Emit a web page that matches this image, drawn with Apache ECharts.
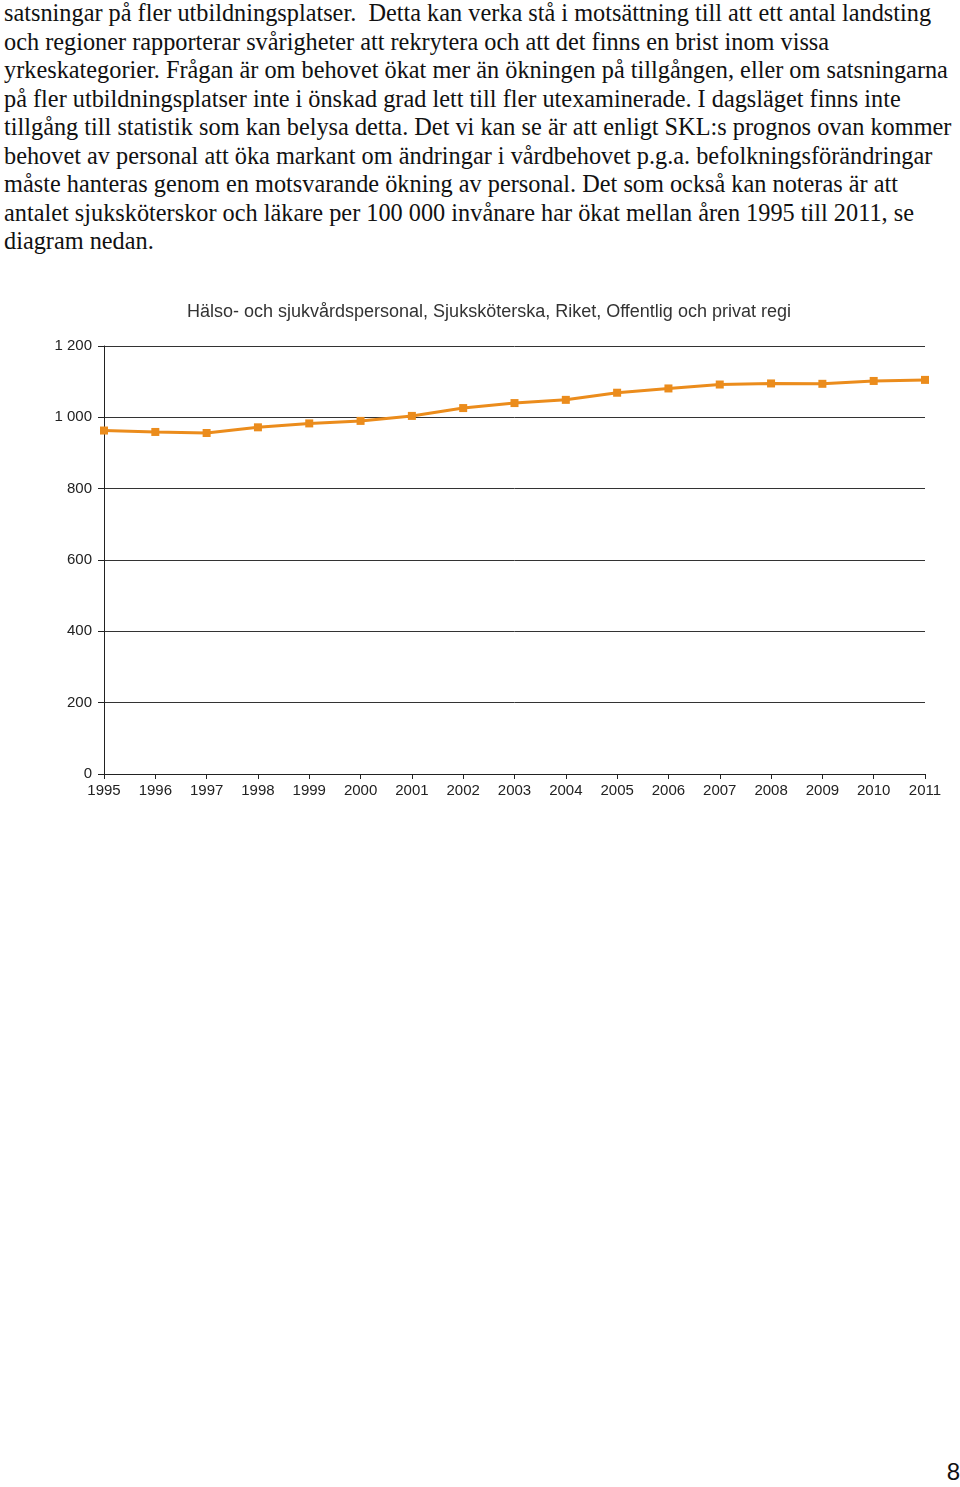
<!DOCTYPE html>
<html>
<head>
<meta charset="utf-8">
<script src="https://cdn.jsdelivr.net/npm/echarts@6/dist/echarts.min.js"></script>
<style>
    body { margin: 0; background: #fff; width: 960px; height: 1487px; position: relative; overflow: hidden; }
    #text {
        position: absolute; left: 4px; top: -1px; width: 956px;
        font-family: 'Liberation Serif', 'DejaVu Serif', serif;
        font-size: 24.3px; line-height: 28.5px; color: #111; white-space: nowrap;
    }
    #chart { position: absolute; left: 0; top: 280px; width: 960px; height: 540px; }
    #page { position: absolute; right: 0; top: 1458px; font-family: 'Liberation Sans', Arial, sans-serif; font-size: 24px; color: #111; }
</style>
</head>
<body>
<div id="text">
satsningar på fler utbildningsplatser.&nbsp; Detta kan verka stå i motsättning till att ett antal landsting<br>
och regioner rapporterar svårigheter att rekrytera och att det finns en brist inom vissa<br>
yrkeskategorier. Frågan är om behovet ökat mer än ökningen på tillgången, eller om satsningarna<br>
på fler utbildningsplatser inte i önskad grad lett till fler utexaminerade. I dagsläget finns inte<br>
tillgång till statistik som kan belysa detta. Det vi kan se är att enligt SKL:s prognos ovan kommer<br>
behovet av personal att öka markant om ändringar i vårdbehovet p.g.a. befolkningsförändringar<br>
måste hanteras genom en motsvarande ökning av personal. Det som också kan noteras är att<br>
antalet sjuksköterskor och läkare per 100 000 invånare har ökat mellan åren 1995 till 2011, se<br>
diagram nedan.
</div>
<div id="chart"></div>
<div id="page">8</div>
<script>
var chartTitle = 'Hälso- och sjukvårdspersonal, Sjuksköterska, Riket, Offentlig och privat regi';
var years = ['1995', '1996', '1997', '1998', '1999', '2000', '2001', '2002', '2003',
             '2004', '2005', '2006', '2007', '2008', '2009', '2010', '2011'];
var nurses = [963, 959, 956, 972, 983, 990, 1004, 1026, 1040,
              1049, 1069, 1081, 1092, 1095, 1094, 1102, 1105];
var yTicks = [0, 200, 400, 600, 800, 1000, 1200];

var myChart = echarts.init(document.getElementById('chart'));
var option = {
    animation: false,
    title: {
        text: chartTitle,
        left: 182,
        top: 18,
        textStyle: {
            fontFamily: 'Liberation Sans, Arial, sans-serif',
            fontSize: 18,
            fontWeight: 'normal',
            color: '#333'
        }
    },
    grid: {
        left: 104,
        right: 35,
        top: 66,
        bottom: 46
    },
    xAxis: {
        type: 'category',
        data: years,
        boundaryGap: false,
        axisLine: { lineStyle: { color: '#222', width: 1 } },
        axisTick: { show: true, length: 5, lineStyle: { color: '#222' } },
        axisLabel: {
            interval: 0,
            margin: 9,
            fontFamily: 'Liberation Sans, Arial, sans-serif',
            fontSize: 15,
            color: '#222'
        }
    },
    yAxis: {
        type: 'value',
        min: yTicks[0],
        max: yTicks[yTicks.length - 1],
        interval: 200,
        axisLine: { show: true, lineStyle: { color: '#222', width: 1 } },
        axisTick: { show: true, length: 6, lineStyle: { color: '#222' } },
        axisLabel: {
            margin: 12,
            fontFamily: 'Liberation Sans, Arial, sans-serif',
            fontSize: 15,
            color: '#222',
            formatter: function (v) {
                return String(v).replace(/\B(?=(\d{3})+(?!\d))/g, ' ');
            }
        },
        splitLine: { show: true, lineStyle: { color: '#333', width: 1 } }
    },
    series: [{
        type: 'line',
        data: nurses,
        symbol: 'rect',
        symbolSize: 8,
        color: '#EB8C1C',
        lineStyle: { width: 3, color: '#EB8C1C' },
        itemStyle: { color: '#EB8C1C' }
    }]
};
myChart.setOption(option);
</script>
</body>
</html>
